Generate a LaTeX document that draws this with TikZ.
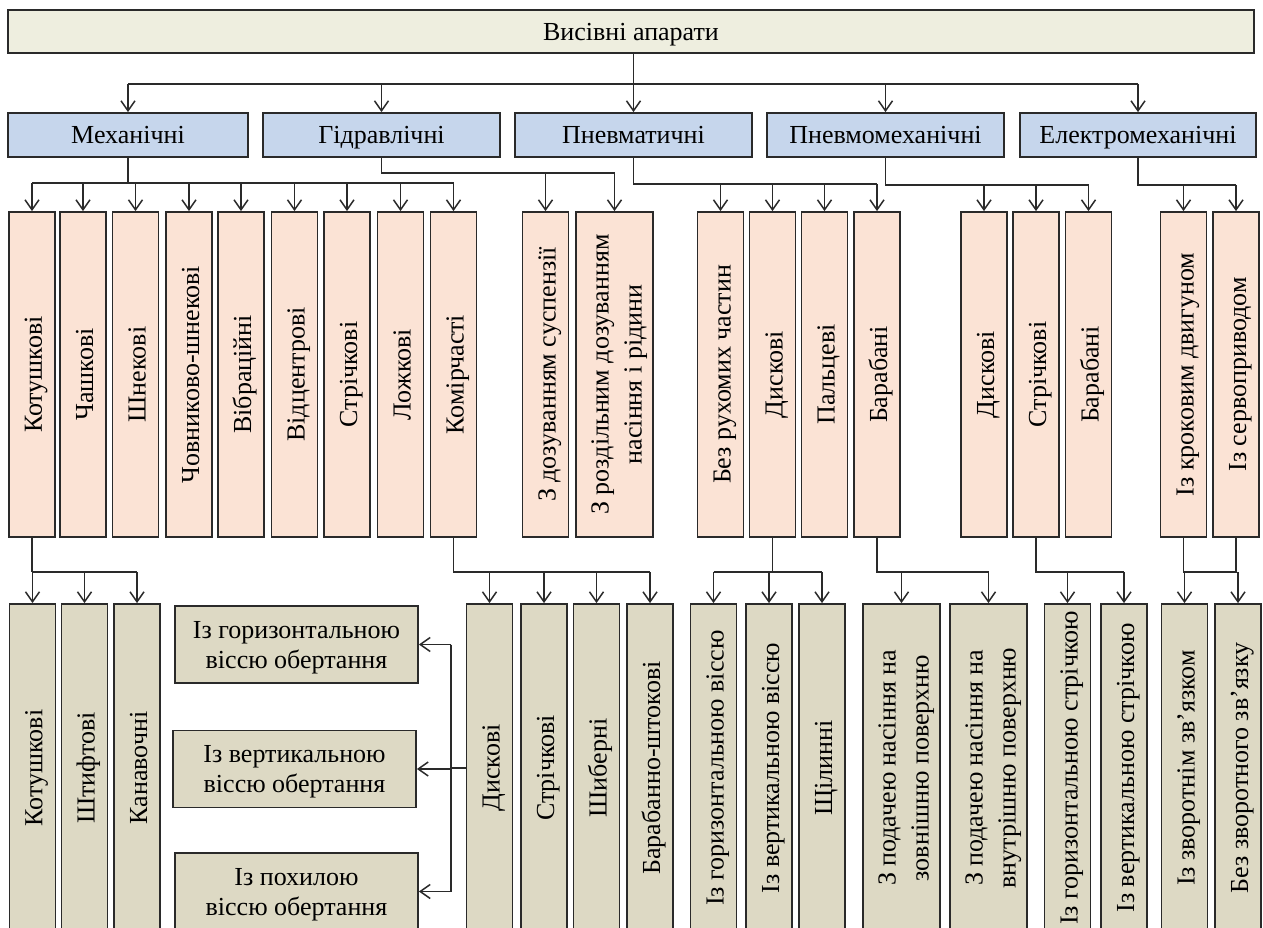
\documentclass[tikz,border=0pt]{standalone}
\usepackage{fontspec}
\setmainfont{Liberation Serif}
\usepackage{graphicx}
\usetikzlibrary{arrows.meta}
\definecolor{topc}{HTML}{EEEEDF}
\definecolor{catc}{HTML}{C6D6EC}
\definecolor{lvtwo}{HTML}{FBE3D5}
\definecolor{lvthree}{HTML}{DDD9C4}
\definecolor{ink}{HTML}{2A2A2A}
\newcommand\rt[1]{\rotatebox{90}{\raisebox{0pt}[20pt][0pt]{#1}}}
\newcommand\rtt[2]{\rotatebox{90}{\raisebox{0pt}[54pt][0pt]{\renewcommand\arraystretch{1.1}\begin{tabular}[b]{@{}c@{}}#1\\#2\end{tabular}}}}
\newcommand\htt[2]{\raisebox{0pt}[47pt][0pt]{\begin{tabular}[b]{@{}c@{}}#1\\#2\end{tabular}}}
\begin{document}
\begin{tikzpicture}[x=1pt,y=-1pt,
  bx/.style={draw=ink, line width=1.8pt, inner sep=0pt, font=\fontsize{26}{30}\selectfont},
  topbox/.style={bx, fill=topc, minimum width=1246pt, minimum height=43pt, text height=20pt, text depth=2pt},
  catbox/.style={bx, fill=catc, minimum width=237pt, minimum height=44pt, text height=20pt, text depth=2pt},
  ltwo/.style={bx, fill=lvtwo, minimum width=46pt, minimum height=325pt},
  lthree/.style={bx, fill=lvthree, minimum width=46pt, minimum height=328pt},
  lthreeh/.style={bx, fill=lvthree, minimum width=243pt, minimum height=77pt},
  conn/.style={draw=ink, line width=1.5pt},
  arr/.style={conn, -{Straight Barb[length=10pt,width=14pt]}},
]
\useasboundingbox (0,0) rectangle (1263,928);
\clip (0,0) rectangle (1263,928);
\fill[white] (0,0) rectangle (1263,928);

% bus levels
\coordinate (yA) at (0,84);
\coordinate (yH) at (0,173);
\coordinate (yM) at (0,183);
\coordinate (yP) at (0,184);
\coordinate (yQ) at (0,185);
\coordinate (yE) at (0,185);
\coordinate (yL) at (0,572);
\coordinate (xV) at (451,0);

% top
\node[topbox] (top) at (631,31.5) {Висівні апарати};

% categories
\node[catbox, minimum width=240pt] (mech) at (128,135) {Механічні};
\node[catbox] (hydr) at (381.5,135) {Гідравлічні};
\node[catbox] (pneu) at (633.5,135) {Пневматичні};
\node[catbox] (pnm) at (885.5,135) {Пневмомеханічні};
\node[catbox, minimum width=236pt] (elm) at (1138,135) {Електромеханічні};

% level 2
\node[ltwo] (m1) at (32,374.5) {\rt{Котушкові}};
\node[ltwo] (m2) at (83,374.5) {\rt{Чашкові}};
\node[ltwo] (m3) at (135.5,374.5) {\rt{Шнекові}};
\node[ltwo] (m4) at (189,374.5) {\rt{Човниково-шнекові}};
\node[ltwo] (m5) at (241,374.5) {\rt{Вібраційні}};
\node[ltwo] (m6) at (294.5,374.5) {\rt{Відцентрові}};
\node[ltwo] (m7) at (347,374.5) {\rt{Стрічкові}};
\node[ltwo] (m8) at (400.5,374.5) {\rt{Ложкові}};
\node[ltwo] (m9) at (453.5,374.5) {\rt{Комірчасті}};

\node[ltwo] (h1) at (545.5,374.5) {\rt{З дозуванням суспензії}};
\node[ltwo, minimum width=77pt] (h2) at (614.5,374.5) {\rtt{З роздільним дозуванням}{насіння і рідини}};

\node[ltwo] (p1) at (720.5,374.5) {\rt{Без рухомих частин}};
\node[ltwo] (p2) at (772.5,374.5) {\rt{Дискові}};
\node[ltwo] (p3) at (824.5,374.5) {\rt{Пальцеві}};
\node[ltwo] (p4) at (877,374.5) {\rt{Барабані}};

\node[ltwo] (q1) at (984,374.5) {\rt{Дискові}};
\node[ltwo] (q2) at (1036,374.5) {\rt{Стрічкові}};
\node[ltwo] (q3) at (1088.5,374.5) {\rt{Барабані}};

\node[ltwo] (e1) at (1183.5,374.5) {\rt{Із кроковим двигуном}};
\node[ltwo] (e2) at (1236,374.5) {\rt{Із сервоприводом}};

% level 3
\node[lthree] (k1) at (32.5,768) {\rt{Котушкові}};
\node[lthree] (k2) at (84.5,768) {\rt{Штифтові}};
\node[lthree] (k3) at (137,768) {\rt{Канавочні}};

\node[lthreeh] (a1) at (296.5,644.5) {\htt{Із горизонтальною}{віссю обертання}};
\node[lthreeh] (a2) at (294.5,769) {\htt{Із вертикальною}{віссю обертання}};
\node[lthreeh] (a3) at (296.5,891.5) {\htt{Із похилою}{віссю обертання}};

\node[lthree] (c1) at (489.5,768) {\rt{Дискові}};
\node[lthree] (c2) at (544,768) {\rt{Стрічкові}};
\node[lthree] (c3) at (596.5,768) {\rt{Шиберні}};
\node[lthree] (c4) at (650,768) {\rt{Барабанно-штокові}};

\node[lthree] (d1) at (713.5,768) {\rt{Із горизонтальною віссю}};
\node[lthree] (d2) at (769,768) {\rt{Із вертикальною віссю}};
\node[lthree] (d3) at (822,768) {\rt{Щілинні}};

\node[lthree, minimum width=77pt] (b1) at (901.5,768) {\rtt{З подачею насіння на}{зовнішню поверхню}};
\node[lthree, minimum width=77pt] (b2) at (988.5,768) {\rtt{З подачею насіння на}{внутрішню поверхню}};

\node[lthree] (s1) at (1067.5,768) {\rt{Із горизонтальною стрічкою}};
\node[lthree] (s2) at (1124,768) {\rt{Із вертикальною стрічкою}};

\node[lthree] (z1) at (1184.5,768) {\rt{Із зворотнім зв'язком}};
\node[lthree] (z2) at (1238,768) {\rt{Без зворотного зв'язку}};

% top -> categories
\draw[arr] (top.south -| pneu.north) -- (pneu.north);
\draw[conn] (mech.north |- yA) -- (elm.north |- yA);
\foreach \n in {mech,hydr,pnm,elm} \draw[arr] (\n.north |- yA) -- (\n.north);

% Механічні
\draw[conn] (mech.south) -- (mech.south |- yM);
\draw[conn] (m1.north |- yM) -- (m9.north |- yM);
\foreach \n in {m1,m2,m3,m4,m5,m6,m7,m8,m9} \draw[arr] (\n.north |- yM) -- (\n.north);

% Гідравлічні
\draw[conn] (hydr.south) |- (h2.north |- yH);
\foreach \n in {h1,h2} \draw[arr] (\n.north |- yH) -- (\n.north);

% Пневматичні
\draw[conn] (pneu.south) |- (p4.north |- yP);
\foreach \n in {p1,p2,p3,p4} \draw[arr] (\n.north |- yP) -- (\n.north);

% Пневмомеханічні
\draw[conn] (pnm.south) |- (q3.north |- yQ);
\foreach \n in {q1,q2,q3} \draw[arr] (\n.north |- yQ) -- (\n.north);

% Електромеханічні
\draw[conn] (elm.south) |- (e2.north |- yE);
\foreach \n in {e1,e2} \draw[arr] (\n.north |- yE) -- (\n.north);

% Котушкові -> k1..k3
\draw[conn] (m1.south) -- (m1.south |- yL);
\draw[conn] (k1.north |- yL) -- (k3.north |- yL);
\foreach \n in {k1,k2,k3} \draw[arr] (\n.north |- yL) -- (\n.north);

% Комірчасті -> c1..c4
\draw[conn] (m9.south) |- (c4.north |- yL);
\foreach \n in {c1,c2,c3,c4} \draw[arr] (\n.north |- yL) -- (\n.north);

% Дискові (c1) -> a1..a3
\draw[conn] (c1.west) -- (c1.west -| xV);
\draw[conn] (a1.east -| xV) -- (a3.east -| xV);
\foreach \n in {a1,a2,a3} \draw[arr] (\n.east -| xV) -- (\n.east);

% Дискові (p2) -> d1..d3
\draw[conn] (p2.south) -- (p2.south |- yL);
\draw[conn] (d1.north |- yL) -- (d3.north |- yL);
\foreach \n in {d1,d2,d3} \draw[arr] (\n.north |- yL) -- (\n.north);

% Барабані (p4) -> b1,b2
\draw[conn] (p4.south) |- (b2.north |- yL);
\foreach \n in {b1,b2} \draw[arr] (\n.north |- yL) -- (\n.north);

% Стрічкові (q2) -> s1,s2
\draw[conn] (q2.south) |- (s2.north |- yL);
\foreach \n in {s1,s2} \draw[arr] (\n.north |- yL) -- (\n.north);

% e1,e2 -> z1,z2
\draw[conn] (e1.south) |- (e2.south |- yL) -- (e2.south);
\foreach \n in {z1,z2} \draw[arr] (\n.north |- yL) -- (\n.north);
\end{tikzpicture}
\end{document}
